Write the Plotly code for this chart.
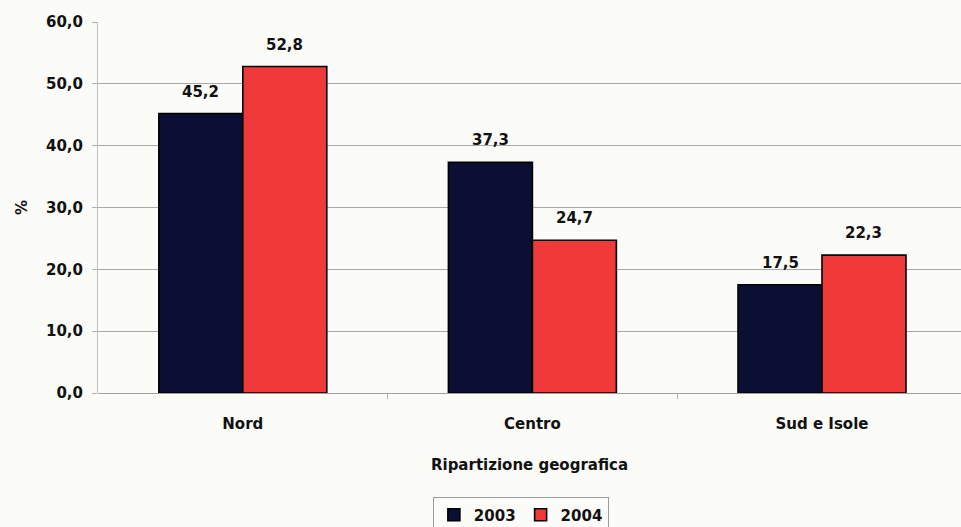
import plotly.graph_objects as go

# Share of the total by geographic area, 2003 vs 2004
regions = ["Nord", "Centro", "Sud e Isole"]
values_2003 = [45.2, 37.3, 17.5]
values_2004 = [52.8, 24.7, 22.3]
years = ["2003", "2004"]
y_ticks = [0, 10, 20, 30, 40, 50, 60]

NAVY = "#0b0f33"
RED = "#f03a39"
FONT = "DejaVu Sans"
BAR_W = 0.29

pos = list(range(len(regions)))

fig = go.Figure()
for name, vals, color, off in [
    (years[0], values_2003, NAVY, -BAR_W),
    (years[1], values_2004, RED, 0.0),
]:
    fig.add_trace(go.Bar(
        x=pos, y=vals, name=name,
        width=BAR_W, offset=off,
        marker=dict(color=color, line=dict(color="#000000", width=1.6)),
    ))
    # value labels above each bar
    for xi, v in zip(pos, vals):
        fig.add_annotation(
            x=xi + off + BAR_W / 2, y=v, xref="x", yref="y",
            text=f"{v:.1f}".replace(".", ","),
            showarrow=False, yanchor="middle", yshift=22,
            font=dict(family=FONT, size=15, color="#111111", weight="bold"),
        )

fig.update_layout(
    width=961, height=527,
    margin=dict(l=98, r=0, t=22, b=134, autoexpand=False),
    paper_bgcolor="#fbfbf8", plot_bgcolor="#fbfbf8",
    separators=",.",
    font=dict(family=FONT, size=15, color="#111111"),
    barmode="overlay",
    showlegend=True,
    legend=dict(
        orientation="h", x=0.49, xanchor="center",
        yref="container", y=0.056, yanchor="top",
        bordercolor="#9a9a9a", borderwidth=1, bgcolor="#fbfbf8",
        font=dict(family=FONT, size=15, color="#111111", weight="bold"),
        itemwidth=30, tracegroupgap=0,
    ),
)

fig.update_xaxes(
    range=[-0.5, 2.48],
    tickvals=pos, ticktext=regions,
    ticks="", ticklabelstandoff=20,
    tickfont=dict(family=FONT, size=15, color="#111111", weight="bold"),
    showgrid=False, zeroline=False,
    showline=False,
    minor=dict(tickvals=[0.5, 1.5], ticks="outside", ticklen=5,
               tickcolor="#b0b0b0", showgrid=False),
    title=dict(text="Ripartizione geografica", standoff=27,
               font=dict(family=FONT, size=15, color="#111111", weight="bold")),
)

fig.update_yaxes(
    range=[0, 60],
    tickvals=y_ticks, tickformat=".1f",
    ticks="outside", ticklen=5, tickcolor="#b0b0b0",
    ticklabelstandoff=6,
    tickfont=dict(family=FONT, size=15, color="#111111", weight="bold"),
    showgrid=True, gridcolor="#a8a8a8", gridwidth=1,
    zeroline=True, zerolinecolor="#a0a0a0", zerolinewidth=1,
    showline=True, linecolor="#c0c0c0", linewidth=1,
    title=dict(text="%", standoff=14,
               font=dict(family=FONT, size=15, color="#111111", weight="bold")),
)

fig.write_html("out.html")
